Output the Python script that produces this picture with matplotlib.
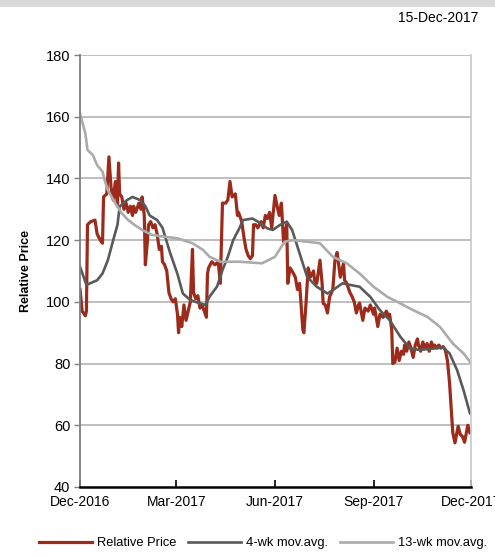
import numpy as np
import matplotlib.pyplot as plt
import matplotlib.dates as mdates
from matplotlib.patches import Rectangle

plt.rcParams['font.family'] = ['Liberation Sans', 'DejaVu Sans']

# data (days counted from 15-Dec-2016)
start = np.datetime64('2016-12-15')
end = np.datetime64('2017-12-15')

price_days = [0, 2, 5, 6, 7, 10, 14, 16, 19, 21, 22, 25, 27, 29, 31, 33, 35, 36, 37, 39,
              41, 43, 45, 47, 49, 50, 52, 55, 57, 58, 60, 61, 63, 64, 66, 68, 70, 72, 74, 76,
              77, 79, 81, 83, 85, 87, 89, 91, 92, 93, 95, 97, 99, 101, 103, 105, 106, 108, 110, 112,
              114, 116, 118, 119, 120, 123, 126, 129, 131, 133, 136, 138, 140, 142, 145, 147, 148, 151, 153, 155,
              157, 159, 161, 162, 164, 166, 169, 171, 173, 175, 177, 179, 182, 184, 186, 188, 190, 191, 193, 194,
              196, 198, 201, 203, 205, 208, 209, 211, 213, 215, 218, 219, 221, 224, 226, 227, 229, 231, 233, 236,
              238, 240, 243, 246, 247, 249, 252, 254, 256, 258, 260, 261, 264, 266, 269, 271, 274, 275, 278, 280,
              283, 286, 288, 289, 291, 292, 294, 296, 298, 300, 302, 303, 305, 307, 309, 311, 313, 315, 316, 318,
              320, 322, 324, 326, 328, 330, 331, 333, 335, 337, 339, 341, 343, 345, 348, 350, 353, 355, 357, 359,
              362, 364]
price_vals = [104, 97, 95.5, 97, 125, 126, 126.5, 122, 120, 119, 134, 135, 147, 137, 133, 139, 131, 145, 135, 134,
              130, 132, 129, 131, 128, 131, 129, 132, 130, 134, 128, 112, 120, 125, 126, 124, 125, 122, 117, 118,
              113, 112, 110, 103, 101, 100, 101, 96, 90, 95, 92, 99, 94, 97, 100, 117, 103, 101, 102, 98,
              99, 97, 95, 109, 111, 113, 112, 113, 106, 132, 132, 133, 139, 134, 135, 128, 129, 126, 121, 117,
              115, 114, 115, 125, 125, 124, 126, 124, 128, 127, 129, 124, 134.5, 131, 128, 132, 119.5, 122, 125, 106,
              111, 110, 108, 104, 106, 91, 90, 99.6, 111, 108, 110, 107, 106, 113.5, 106, 99.5, 99, 96.4, 101.6, 104,
              113.5, 116, 108, 112.5, 107, 106, 103, 101.7, 100, 96.4, 99, 99.6, 94, 98, 97, 99, 96, 98, 92, 96,
              95, 97, 95, 96, 91, 80, 80.5, 85, 81, 84, 83, 86, 84, 87, 85, 82, 86, 88, 86, 84,
              87, 85, 86.5, 84, 87, 85, 86, 85, 86, 85, 85.5, 84.4, 81, 73.6, 57.6, 54.3, 59.7, 57, 56.4, 54.5,
              60, 57.6]

ma4_days = [0, 6, 16, 21, 26, 31, 35, 37, 44, 49, 56, 61, 65, 72, 77, 84, 91, 96, 103, 112,
            117, 121, 128, 133, 138, 143, 149, 152, 161, 166, 175, 180, 187, 193, 198, 204, 212, 221, 231, 236,
            245, 252, 261, 271, 280, 289, 299, 308, 317, 330, 339, 345, 352, 358, 364]
ma4_vals = [111.4, 105.5, 107, 109.2, 113.5, 120, 125, 130.9, 133, 134, 133, 131, 128, 126.5, 124, 116, 109, 102.7, 100.6, 99.5,
            99, 101.7, 105, 110.3, 114.6, 120, 124, 126.5, 127, 126, 123.8, 123.3, 125, 126, 123.3, 116.8, 108.1, 104.9, 102.7, 103.8,
            106, 105.5, 104.9, 101.6, 97.3, 94.1, 88.7, 84.9, 84.4, 84.9, 85.2, 83.3, 77.9, 71.4, 63.9]

ma13_days = [0, 5, 7, 12, 16, 21, 23, 26, 33, 39, 45, 51, 58, 67, 79, 91, 105, 115, 121, 131,
             149, 170, 182, 191, 199, 212, 224, 236, 249, 261, 274, 287, 299, 311, 324, 336, 348, 358, 364]
ma13_vals = [161, 154.6, 149.2, 147.6, 144.3, 142.2, 139.5, 136.2, 131.9, 128.7, 126.5, 124.9, 123.3, 121.7, 121.1, 120.6, 119, 116.8, 114.6, 113,
             113, 112.5, 114.6, 119.5, 120, 119.5, 119, 114.6, 112.5, 109.2, 104.9, 101.6, 99.5, 97.3, 95.2, 91.9, 86.5, 83.3, 80.6]

tick_dates = ['2016-12-15', '2017-03-15', '2017-06-15', '2017-09-15', '2017-12-15']
y_ticks = [40, 60, 80, 100, 120, 140, 160, 180]

def to_dates(days):
    return start + np.array(days).astype('timedelta64[D]')

fig = plt.figure(figsize=(4.95, 5.57), dpi=100)

# grey band at the very top
fig.patches.append(Rectangle((0, 1 - 7 / 557), 1, 7 / 557, transform=fig.transFigure,
                             facecolor='#d9d9d9', edgecolor='none'))
fig.text(478 / 495, 1 - 18 / 557, '15-Dec-2017', ha='right', va='center', fontsize=10)

ax = fig.add_axes([80 / 495, 1 - 487 / 557, 391 / 495, 432 / 557])

ax.plot(to_dates(price_days), price_vals, color='#9c2b1b', lw=2.3, label='Relative Price')
ax.plot(to_dates(ma4_days), ma4_vals, color='#595959', lw=1.9, label='4-wk mov.avg.')
ax.plot(to_dates(ma13_days), ma13_vals, color='#ababab', lw=1.9, label='13-wk mov.avg.')

ax.set_xlim(start, end)
ax.set_ylim(40, 180)
ax.set_yticks(y_ticks)
ax.set_xticks(np.array(tick_dates, dtype='datetime64[D]'))
ax.xaxis.set_major_formatter(mdates.DateFormatter('%b-%Y'))

for v in y_ticks[1:]:
    ax.axhline(v, color='#b3b3b3', lw=1.2, zorder=0)

ax.spines['left'].set_color('#808080')
ax.spines['left'].set_linewidth(1.3)
ax.spines['bottom'].set_color('black')
ax.spines['bottom'].set_linewidth(1.8)
ax.spines['top'].set_visible(False)
ax.spines['right'].set_color('#c8c8c8')
ax.spines['right'].set_linewidth(1.2)

ax.tick_params(axis='x', direction='in', length=5, width=1.2, color='black', labelsize=10, pad=6)
ax.tick_params(axis='y', direction='out', length=4, width=1, color='#808080', labelsize=10.5, pad=3)

ax.set_ylabel('Relative Price', fontsize=9, fontweight='bold', labelpad=10)

fig.legend(loc='center', bbox_to_anchor=(263 / 495, 1 - 543 / 557), ncol=3, frameon=False,
           fontsize=9.3, handlelength=4.1, handletextpad=0.4, columnspacing=0.9)

fig.savefig('out.png', dpi=100)
